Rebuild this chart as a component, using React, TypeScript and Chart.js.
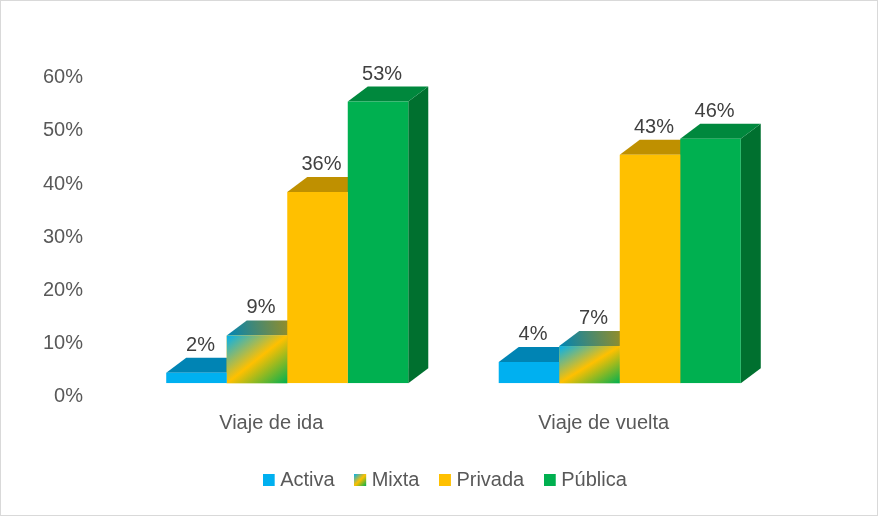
import React, { useEffect, useRef } from "react";
import { Chart, registerables } from "chart.js";

Chart.register(...registerables);

// ---- data ----
const categories = ["Viaje de ida", "Viaje de vuelta"];
const seriesNames = ["Activa", "Mixta", "Privada", "Pública"];
const activa = [2, 4];
const mixta = [9, 7];
const privada = [36, 43];
const publica = [53, 46];
const yMin = 0;
const yMax = 60;
const yStep = 10;

// ---- styles ----
const FONT = "'Liberation Sans', Arial, sans-serif";
const AXIS_COLOR = "#595959";
const LABEL_COLOR = "#404040";
const frontColors = ["#00B0F0", "#FFC000", "#FFC000", "#00B050"];
const topColors = ["#0084B4", "grad", "#BF9000", "#00883D"];
const sideColors = ["#00729C", "#A07800", "#A07800", "#00702F"];
const DX = 20;
const DY = -15;

function mixGradient(ctx: CanvasRenderingContext2D, l: number, t: number, w: number, h: number) {
  const cx = l + w / 2;
  const cy = t + h / 2;
  const k = (w * h) / (w * w + h * h);
  const g = ctx.createLinearGradient(cx - k * h, cy - k * w, cx + k * h, cy + k * w);
  g.addColorStop(0, "#00B0F0");
  g.addColorStop(0.5, "#FFC000");
  g.addColorStop(1, "#00B050");
  return g;
}

function legendSwatch(i: number) {
  const c = document.createElement("canvas");
  c.width = 14;
  c.height = 12;
  const x = c.getContext("2d")!;
  x.fillStyle = i === 1 ? mixGradient(x, 0, 0, 12, 12) : frontColors[i];
  x.fillRect(0, 0, 12, 12);
  return c;
}

const bgPlugin = {
  id: "bgBorder",
  beforeDraw(chart: any) {
    const { ctx, width, height } = chart;
    ctx.save();
    ctx.fillStyle = "#ffffff";
    ctx.fillRect(0, 0, width, height);
    ctx.strokeStyle = "#D9D9D9";
    ctx.lineWidth = 1;
    ctx.strokeRect(0.5, 0.5, width - 1, height - 1);
    ctx.restore();
  },
};

const threeDPlugin = {
  id: "threeD",
  // side and top faces, drawn behind all front faces, left to right
  beforeDatasetsDraw(chart: any) {
    const { ctx } = chart;
    chart.data.datasets.forEach((_ds: any, i: number) => {
      const meta = chart.getDatasetMeta(i);
      meta.data.forEach((el: any) => {
        const { x, y, base, width } = el.getProps(["x", "y", "base", "width"], true);
        const l = x - width / 2;
        const r = x + width / 2;
        ctx.save();
        ctx.fillStyle = sideColors[i];
        ctx.beginPath();
        ctx.moveTo(r, y);
        ctx.lineTo(r + DX, y + DY);
        ctx.lineTo(r + DX, base + DY);
        ctx.lineTo(r, base);
        ctx.closePath();
        ctx.fill();
        if (i === 1) {
          const g = ctx.createLinearGradient(l, y, r + DX, y + DY);
          g.addColorStop(0, "#0084B4");
          g.addColorStop(1, "#BF9000");
          ctx.fillStyle = g;
        } else {
          ctx.fillStyle = topColors[i];
        }
        ctx.beginPath();
        ctx.moveTo(l, y);
        ctx.lineTo(l + DX, y + DY);
        ctx.lineTo(r + DX, y + DY);
        ctx.lineTo(r, y);
        ctx.closePath();
        ctx.fill();
        ctx.restore();
      });
    });
  },
  afterDatasetDraw(chart: any, args: any) {
    if (args.index !== 1) return;
    const { ctx } = chart;
    args.meta.data.forEach((el: any) => {
      const { x, y, base, width } = el.getProps(["x", "y", "base", "width"], true);
      const l = x - width / 2;
      ctx.save();
      ctx.fillStyle = mixGradient(ctx, l, y, width, base - y);
      ctx.fillRect(l, y, width, base - y);
      ctx.restore();
    });
  },
  afterDatasetsDraw(chart: any) {
    const { ctx } = chart;
    ctx.save();
    ctx.font = `20px ${FONT}`;
    ctx.fillStyle = LABEL_COLOR;
    ctx.textAlign = "center";
    ctx.textBaseline = "alphabetic";
    chart.data.datasets.forEach((ds: any, di: number) => {
      const meta = chart.getDatasetMeta(di);
      meta.data.forEach((el: any, j: number) => {
        const { x, y } = el.getProps(["x", "y"], true);
        ctx.fillText(`${ds.data[j]}%`, x + 4, y - 22);
      });
    });
    ctx.restore();
  },
};

export default function App() {
  const ref = useRef<HTMLCanvasElement>(null);
  useEffect(() => {
    const seriesData = [activa, mixta, privada, publica];
    const chart = new Chart(ref.current!, {
      type: "bar",
      data: {
        labels: categories,
        datasets: seriesNames.map((name, i) => ({
          label: name,
          data: seriesData[i],
          backgroundColor: frontColors[i],
          borderWidth: 0,
          categoryPercentage: 0.728,
          barPercentage: 1,
        })),
      },
      options: {
        responsive: false,
        animation: false,
        layout: { padding: { left: 18, right: 0, top: 64.3, bottom: 16 } },
        scales: {
          x: {
            grid: { display: false },
            border: { display: false },
            ticks: {
              color: AXIS_COLOR,
              font: { family: FONT, size: 20 },
              padding: 20,
              labelOffset: -16,
            },
            afterFit: (s: any) => {
              s.height = 60.7;
            },
          },
          y: {
            min: yMin,
            max: yMax,
            grid: { display: false },
            border: { display: false },
            ticks: {
              stepSize: yStep,
              color: AXIS_COLOR,
              font: { family: FONT, size: 20 },
              padding: 30,
              labelOffset: 13.5,
              callback: (v: any) => `${v}%`,
            },
            afterFit: (s: any) => {
              s.width = 103;
            },
          },
          yRight: {
            position: "right",
            display: true,
            grid: { display: false },
            border: { display: false },
            ticks: { display: false },
            afterFit: (s: any) => {
              s.width = 92;
            },
          },
        },
        plugins: {
          tooltip: { enabled: false },
          legend: {
            position: "bottom",
            labels: {
              usePointStyle: true,
              pointStyleWidth: 1,
              padding: 26,
              color: AXIS_COLOR,
              font: { family: FONT, size: 20 },
              generateLabels: () =>
                seriesNames.map((name, i) => ({
                  text: name,
                  pointStyle: legendSwatch(i),
                  fillStyle: frontColors[i],
                  strokeStyle: frontColors[i],
                  lineWidth: 0,
                  hidden: false,
                  datasetIndex: i,
                  fontColor: AXIS_COLOR,
                })),
            },
          },
        },
      } as any,
      plugins: [bgPlugin, threeDPlugin],
    });
    return () => chart.destroy();
  }, []);
  return (
    <canvas
      ref={ref}
      width={878}
      height={516}
      style={{ position: "absolute", left: 0, top: 0, display: "block" }}
    />
  );
}
